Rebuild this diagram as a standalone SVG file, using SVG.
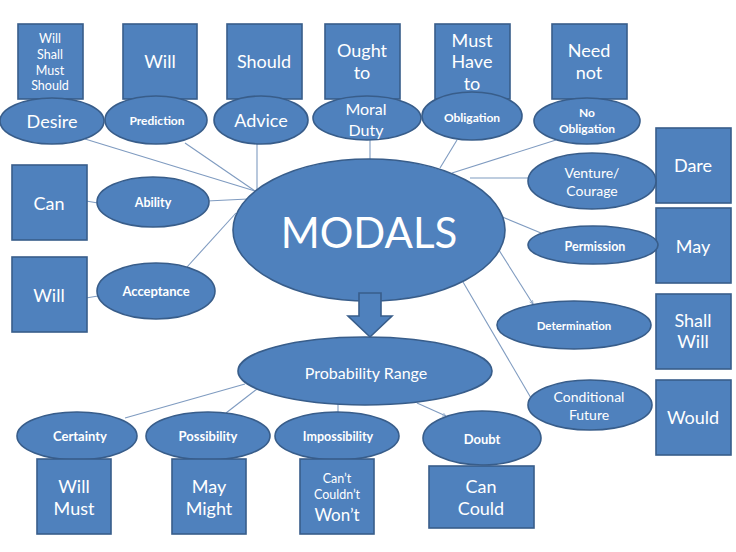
<svg xmlns="http://www.w3.org/2000/svg" width="736" height="552" viewBox="0 0 736 552">
<defs>
<style>
.n{fill:#4F81BD;stroke:#385D8A;stroke-width:1.6}
.c{stroke:#7F9BC0;stroke-width:1.1;fill:none}
text{fill:#ffffff;font-family:Lato,"Open Sans","Liberation Sans",sans-serif;text-anchor:middle;dominant-baseline:central}
.b{font-size:18px}
.s{font-size:12.5px;font-weight:bold}
.m{font-size:14px}
</style>
<marker id="ah" viewBox="0 0 10 10" refX="9" refY="5" markerWidth="4" markerHeight="4" orient="auto">
<path d="M1,1 L9,5 L1,9" fill="none" stroke="#7F9BC0" stroke-width="1.5"/>
</marker>
</defs>
<rect width="736" height="552" fill="#ffffff"/>
<g id="connectors">
<line class="c" x1="85" y1="139" x2="255" y2="191"/>
<line class="c" x1="185" y1="143" x2="255" y2="191"/>
<line class="c" x1="257" y1="142" x2="257" y2="191"/>
<line class="c" x1="207" y1="201" x2="248" y2="199"/>
<line class="c" x1="187" y1="267" x2="236" y2="213"/>
<line class="c" x1="86" y1="201" x2="98" y2="203"/>
<line class="c" x1="86" y1="298" x2="98" y2="296"/>
<line class="c" x1="370" y1="138" x2="370" y2="160"/>
<line class="c" x1="457" y1="140" x2="440" y2="168"/>
<line class="c" x1="556" y1="140" x2="452" y2="173"/>
<line class="c" x1="470" y1="178" x2="529" y2="178"/>
<line class="c" x1="495" y1="214" x2="541" y2="233"/>
<line class="c" x1="497" y1="247" x2="533" y2="304" marker-end="url(#ah)"/>
<line class="c" x1="463" y1="282" x2="531" y2="398"/>
<line class="c" x1="245" y1="384" x2="125" y2="418"/>
<line class="c" x1="257" y1="389" x2="226" y2="413"/>
<line class="c" x1="338" y1="404" x2="338" y2="413"/>
<line class="c" x1="417" y1="403" x2="446" y2="416" marker-end="url(#ah)"/>
</g>
<g id="box-will-shall-must-should"><rect class="n" x="18" y="24" width="65" height="75"/><text x="50" y="38" style="font-size:12.5px">Will</text><text x="50" y="54" style="font-size:12.5px">Shall</text><text x="50" y="70" style="font-size:12.5px">Must</text><text x="50" y="85" style="font-size:12.5px">Should</text></g>
<g id="box-will-top"><rect class="n" x="123" y="24" width="74" height="75"/><text class="b" x="160" y="61">Will</text></g>
<g id="box-should"><rect class="n" x="227" y="24" width="75" height="75"/><text class="b" x="264" y="61">Should</text></g>
<g id="box-ought-to"><rect class="n" x="325" y="24" width="75" height="75"/><text class="b" x="362" y="50">Ought</text><text class="b" x="362" y="72">to</text></g>
<g id="box-must-have-to"><rect class="n" x="435" y="24" width="75" height="75"/><text class="b" x="472" y="40">Must</text><text class="b" x="472" y="61">Have</text><text class="b" x="472" y="83">to</text></g>
<g id="box-need-not"><rect class="n" x="552" y="24" width="75" height="75"/><text class="b" x="589" y="50">Need</text><text class="b" x="589" y="72">not</text></g>
<g id="desire"><ellipse class="n" cx="52" cy="121" rx="52" ry="23"/><text class="b" x="52" y="121">Desire</text></g>
<g id="prediction"><ellipse class="n" cx="156" cy="120" rx="51" ry="24"/><text class="s" x="157" y="120" style="font-size:12px">Prediction</text></g>
<g id="advice"><ellipse class="n" cx="261" cy="120" rx="47" ry="24"/><text class="b" x="261" y="120">Advice</text></g>
<g id="moral-duty"><ellipse class="n" cx="367" cy="118" rx="54" ry="22"/><text x="366" y="108" style="font-size:16px">Moral</text><text x="366" y="129" style="font-size:16px">Duty</text></g>
<g id="obligation"><ellipse class="n" cx="472" cy="116" rx="50" ry="24"/><text class="s" x="472" y="117" style="font-size:12px">Obligation</text></g>
<g id="no-obligation"><ellipse class="n" cx="587" cy="121" rx="53" ry="23"/><text class="s" x="587" y="112" style="font-size:12px">No</text><text class="s" x="587" y="128" style="font-size:12px">Obligation</text></g>
<g id="box-dare"><rect class="n" x="656" y="128" width="75" height="75"/><text class="b" x="693" y="165">Dare</text></g>
<g id="venture"><ellipse class="n" cx="592" cy="181" rx="64" ry="28"/><text class="m" x="592" y="172">Venture/</text><text class="m" x="592" y="190">Courage</text></g>
<g id="box-may"><rect class="n" x="656" y="208" width="75" height="75"/><text class="b" x="693" y="246">May</text></g>
<g id="permission"><ellipse class="n" cx="593" cy="245" rx="65" ry="19"/><text class="s" x="595" y="246">Permission</text></g>
<g id="box-shall-will"><rect class="n" x="656" y="294" width="75" height="75"/><text class="b" x="693" y="320">Shall</text><text class="b" x="693" y="341">Will</text></g>
<g id="determination"><ellipse class="n" cx="574" cy="325" rx="77" ry="24"/><text class="s" x="574" y="325" style="font-size:11.5px">Determination</text></g>
<g id="box-would"><rect class="n" x="656" y="380" width="75" height="75"/><text class="b" x="693" y="417">Would</text></g>
<g id="conditional-future"><ellipse class="n" cx="590" cy="405" rx="62" ry="25"/><text class="m" x="589" y="396">Conditional</text><text class="m" x="589" y="414">Future</text></g>
<g id="box-can"><rect class="n" x="12" y="165" width="75" height="75"/><text class="b" x="49" y="203">Can</text></g>
<g id="ability"><ellipse class="n" cx="153" cy="202" rx="56" ry="25"/><text class="s" x="153" y="202">Ability</text></g>
<g id="box-will-left"><rect class="n" x="12" y="257" width="75" height="75"/><text class="b" x="49" y="295">Will</text></g>
<g id="acceptance"><ellipse class="n" cx="156" cy="291" rx="59" ry="28"/><text class="s" x="156" y="291" style="font-size:13px">Acceptance</text></g>
<g id="modals"><ellipse class="n" cx="369" cy="230" rx="136" ry="71"/><text x="369" y="232" style="font-size:42px">MODALS</text></g>
<g id="arrow-down"><path class="n" d="M359,293 H381 V316 H392 L370,337 L348,316 H359 Z"/></g>
<g id="probability-range"><ellipse class="n" cx="365" cy="371" rx="127" ry="34"/><text x="366" y="372" style="font-size:16px">Probability Range</text></g>
<g id="certainty"><ellipse class="n" cx="77" cy="436" rx="60" ry="24"/><text class="s" x="80" y="436" style="font-size:13px">Certainty</text></g>
<g id="possibility"><ellipse class="n" cx="208" cy="436" rx="62" ry="24"/><text class="s" x="208" y="436" style="font-size:13px">Possibility</text></g>
<g id="impossibility"><ellipse class="n" cx="337" cy="436" rx="62" ry="24"/><text class="s" x="338" y="436" style="font-size:12.5px">Impossibility</text></g>
<g id="doubt"><ellipse class="n" cx="482" cy="438" rx="59" ry="27"/><text class="s" x="482" y="439" style="font-size:13px">Doubt</text></g>
<g id="box-will-must"><rect class="n" x="37" y="459" width="74" height="75"/><text class="b" x="74" y="486">Will</text><text class="b" x="74" y="508">Must</text></g>
<g id="box-may-might"><rect class="n" x="172" y="459" width="74" height="75"/><text class="b" x="209" y="486">May</text><text class="b" x="209" y="508">Might</text></g>
<g id="box-cant"><rect class="n" x="300" y="459" width="74" height="75"/><text x="337" y="478" style="font-size:12.5px">Can’t</text><text x="337" y="494" style="font-size:12.5px">Couldn’t</text><text x="337" y="514" style="font-size:17px">Won’t</text></g>
<g id="box-can-could"><rect class="n" x="429" y="466" width="105" height="62"/><text class="b" x="481" y="486">Can</text><text class="b" x="481" y="508">Could</text></g>
</svg>
